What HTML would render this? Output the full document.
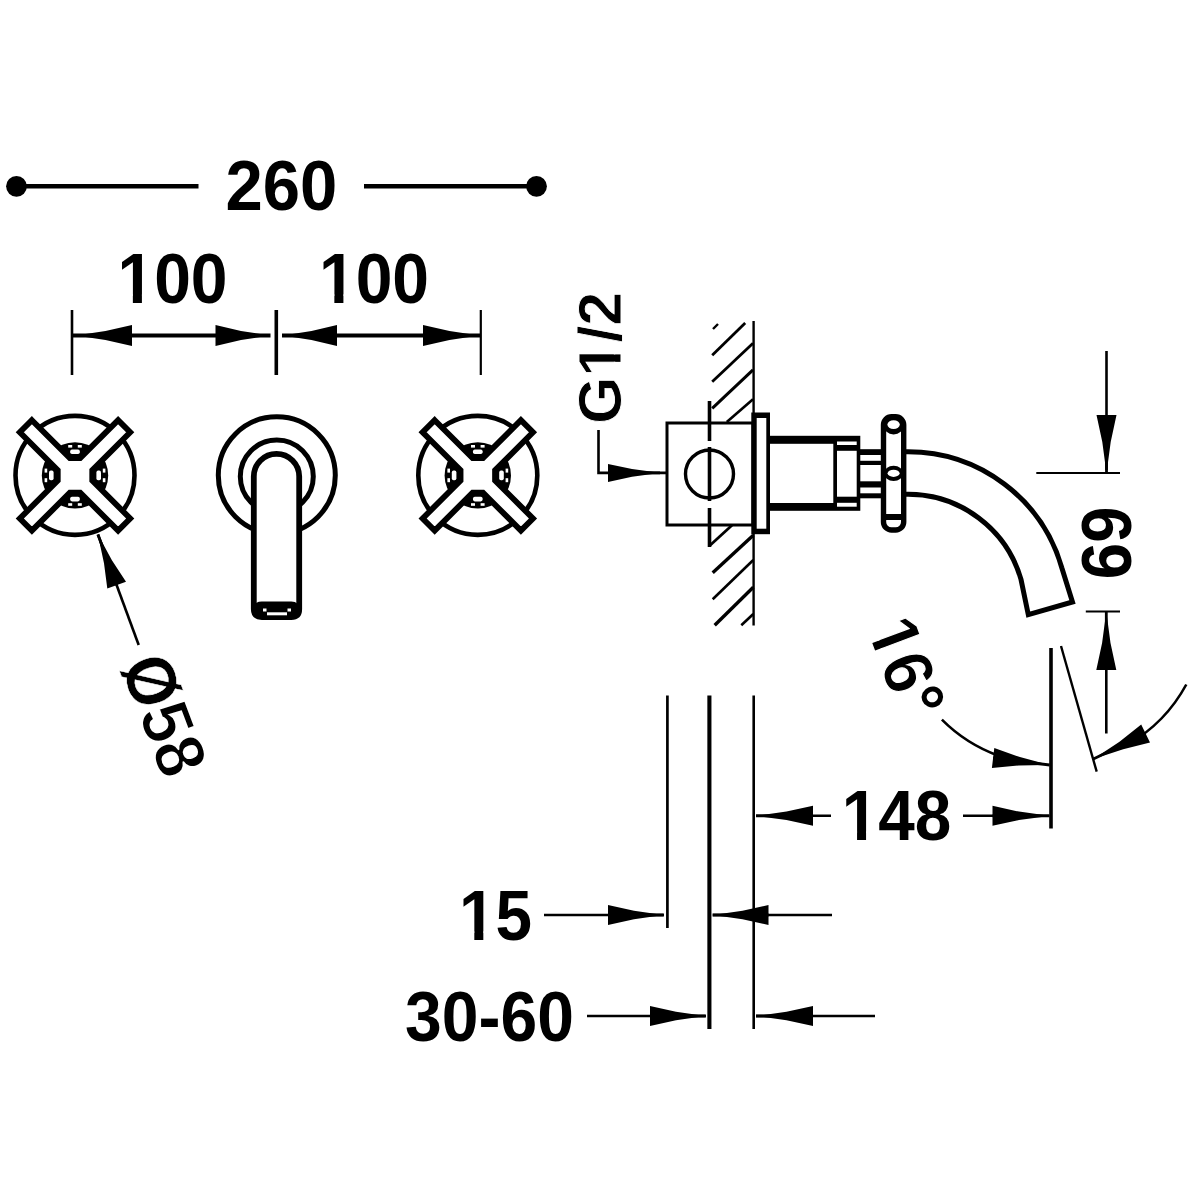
<!DOCTYPE html>
<html lang="en">
<head>
<meta charset="utf-8">
<title>Technical drawing</title>
<style>
html,body{margin:0;padding:0;background:#fff;}
body{width:1200px;height:1200px;overflow:hidden;}
svg{display:block;}
svg line,svg path,svg circle,svg rect,svg polygon,svg ellipse{stroke:#000;fill:none;stroke-linecap:butt;}
svg text{font-kerning:none;font-family:"Liberation Sans",sans-serif;font-weight:700;fill:#000;stroke:none;}
svg .f{fill:#000;stroke:none;}
svg .w{fill:#fff;}
svg .n{fill:none;}
svg .wf{fill:#fff;stroke:none;}
</style>
</head>
<body>
<svg width="1200" height="1200" viewBox="0 0 1200 1200">
<rect x="0" y="0" width="1200" height="1200" style="fill:#fff;stroke:none"/>
<circle class="f" cx="16.5" cy="186.3" r="10.4"/>
<circle class="f" cx="536.5" cy="186.3" r="10.4"/>
<line x1="16" y1="186.3" x2="198.5" y2="186.3" stroke-width="4.5"/>
<line x1="364" y1="186.3" x2="536" y2="186.3" stroke-width="4.5"/>
<g transform="translate(281.3 209.8) scale(1 1.05)">
<text x="-55.89" y="0" font-size="67">260</text>
</g>
<g transform="translate(172.5 303) scale(0.985 1.05)">
<text x="-55.89" y="0" font-size="67">100</text>
<rect class="wf" x="-52.62" y="-8.18" width="12.37" height="8.83"/>
<rect class="wf" x="-31.06" y="-8.18" width="11.48" height="8.83"/>
</g>
<g transform="translate(374 303) scale(0.985 1.05)">
<text x="-55.89" y="0" font-size="67">100</text>
<rect class="wf" x="-52.62" y="-8.18" width="12.37" height="8.83"/>
<rect class="wf" x="-31.06" y="-8.18" width="11.48" height="8.83"/>
</g>
<line x1="72" y1="310" x2="72" y2="375" stroke-width="2.6"/>
<line x1="276.3" y1="310" x2="276.3" y2="375" stroke-width="3.6"/>
<line x1="480.8" y1="310" x2="480.8" y2="375" stroke-width="2.2"/>
<line x1="73" y1="335.5" x2="270.5" y2="335.5" stroke-width="4"/>
<line x1="282" y1="335.5" x2="480" y2="335.5" stroke-width="4"/>
<polygon class="f" points="79.0,334.9 105.5,331.1 132.0,325.0 132.0,346.0 105.5,339.9 79.0,336.1"/>
<polygon class="f" points="266.5,336.1 241.0,339.9 215.5,346.0 215.5,325.0 241.0,331.1 266.5,334.9"/>
<polygon class="f" points="286.0,334.9 311.5,331.1 337.0,325.0 337.0,346.0 311.5,339.9 286.0,336.1"/>
<polygon class="f" points="476.0,336.1 449.5,339.9 423.0,346.0 423.0,325.0 449.5,331.1 476.0,334.9"/>
<g transform="translate(75 475.4)">
<circle r="59.5" stroke-width="4.6" class="w"/>
<circle r="33.2" class="f"/>
<rect class="wf" transform="rotate(0)" x="-26" y="-4.8" width="4.6" height="9.6" rx="1.8"/>
<rect class="wf" transform="rotate(0)" x="-30.4" y="-6.8" width="2.6" height="4"/>
<rect class="wf" transform="rotate(0)" x="-30.4" y="2.8" width="2.6" height="4"/>
<rect class="wf" transform="rotate(90)" x="-26" y="-4.8" width="4.6" height="9.6" rx="1.8"/>
<rect class="wf" transform="rotate(90)" x="-30.4" y="-6.8" width="2.6" height="4"/>
<rect class="wf" transform="rotate(90)" x="-30.4" y="2.8" width="2.6" height="4"/>
<rect class="wf" transform="rotate(180)" x="-26" y="-4.8" width="4.6" height="9.6" rx="1.8"/>
<rect class="wf" transform="rotate(180)" x="-30.4" y="-6.8" width="2.6" height="4"/>
<rect class="wf" transform="rotate(180)" x="-30.4" y="2.8" width="2.6" height="4"/>
<rect class="wf" transform="rotate(270)" x="-26" y="-4.8" width="4.6" height="9.6" rx="1.8"/>
<rect class="wf" transform="rotate(270)" x="-30.4" y="-6.8" width="2.6" height="4"/>
<rect class="wf" transform="rotate(270)" x="-30.4" y="2.8" width="2.6" height="4"/>
<polygon transform="rotate(45)" class="w" stroke-width="5.8" stroke-linejoin="miter" points="-69.5,-8.55 -15.85,-8.55 -8.55,-15.85 -8.55,-69.5 8.55,-69.5 8.55,-15.85 15.85,-8.55 69.5,-8.55 69.5,8.55 15.85,8.55 8.55,15.85 8.55,69.5 -8.55,69.5 -8.55,15.85 -15.85,8.55 -69.5,8.55"/>
</g>
<g transform="translate(477.8 475.4)">
<circle r="59.5" stroke-width="4.6" class="w"/>
<circle r="33.2" class="f"/>
<rect class="wf" transform="rotate(0)" x="-26" y="-4.8" width="4.6" height="9.6" rx="1.8"/>
<rect class="wf" transform="rotate(0)" x="-30.4" y="-6.8" width="2.6" height="4"/>
<rect class="wf" transform="rotate(0)" x="-30.4" y="2.8" width="2.6" height="4"/>
<rect class="wf" transform="rotate(90)" x="-26" y="-4.8" width="4.6" height="9.6" rx="1.8"/>
<rect class="wf" transform="rotate(90)" x="-30.4" y="-6.8" width="2.6" height="4"/>
<rect class="wf" transform="rotate(90)" x="-30.4" y="2.8" width="2.6" height="4"/>
<rect class="wf" transform="rotate(180)" x="-26" y="-4.8" width="4.6" height="9.6" rx="1.8"/>
<rect class="wf" transform="rotate(180)" x="-30.4" y="-6.8" width="2.6" height="4"/>
<rect class="wf" transform="rotate(180)" x="-30.4" y="2.8" width="2.6" height="4"/>
<rect class="wf" transform="rotate(270)" x="-26" y="-4.8" width="4.6" height="9.6" rx="1.8"/>
<rect class="wf" transform="rotate(270)" x="-30.4" y="-6.8" width="2.6" height="4"/>
<rect class="wf" transform="rotate(270)" x="-30.4" y="2.8" width="2.6" height="4"/>
<polygon transform="rotate(45)" class="w" stroke-width="5.8" stroke-linejoin="miter" points="-69.5,-8.55 -15.85,-8.55 -8.55,-15.85 -8.55,-69.5 8.55,-69.5 8.55,-15.85 15.85,-8.55 69.5,-8.55 69.5,8.55 15.85,8.55 8.55,15.85 8.55,69.5 -8.55,69.5 -8.55,15.85 -15.85,8.55 -69.5,8.55"/>
</g>
<circle cx="276.8" cy="475.3" r="58.5" stroke-width="5" class="w"/>
<circle cx="276.8" cy="476.5" r="36.5" stroke-width="5" class="w"/>
<path class="w" stroke-width="5.8" d="M253.8 609 V476.6 A22.7 22.7 0 0 1 299.2 476.6 V609 Q299.2 617 291.2 617 H261.8 Q253.8 617 253.8 609 Z"/>
<path class="f" d="M253.7 609 Q253.7 601.5 261.7 601.5 H291.3 Q299.3 601.5 299.3 609 Q299.3 617 291.3 617 H261.7 Q253.7 617 253.7 609 Z"/>
<rect x="267" y="612.3" width="20" height="3" class="wf"/>
<rect x="263" y="608.5" width="3.5" height="3" class="wf"/>
<rect x="287.5" y="608.5" width="3.5" height="3" class="wf"/>
<line x1="98" y1="534.5" x2="138.7" y2="645" stroke-width="2.6"/>
<polygon class="f" points="99.9,538.0 111.9,560.2 126.0,581.7 107.3,588.6 104.0,563.2 98.7,538.5"/>
<line x1="116.6" y1="585.1" x2="97.9" y2="534.5" stroke-width="2.8"/>
<g transform="translate(120 665.5) rotate(69.5) scale(0.98 1.05)">
<text x="0.00" y="0" font-size="67"><tspan style="stroke:#fff;stroke-width:0.5px">Ø</tspan><tspan style="stroke:#fff;stroke-width:1.5px">58</tspan></text>
</g>
<g transform="translate(621.3 424) rotate(-90) scale(1 1)">
<text x="0.00" y="0" font-size="61"><tspan style="stroke:#fff;stroke-width:0.9px">G</tspan><tspan style="stroke:#fff;stroke-width:0.9px">1</tspan><tspan style="stroke:#fff;stroke-width:0.9px">/</tspan><tspan style="stroke:#fff;stroke-width:0.9px">2</tspan></text>
<rect class="wf" x="50.43" y="-7.45" width="11.71" height="8.04"/>
<rect class="wf" x="69.60" y="-7.45" width="10.90" height="8.04"/>
</g>
<path class="n" stroke-width="2.6" d="M598.5 430 V472.9 H667"/>
<polygon class="f" points="656.0,473.5 632.0,476.7 608.0,481.9 608.0,463.9 632.0,469.1 656.0,472.3"/>
<line x1="608.0" y1="472.9" x2="660.0" y2="472.9" stroke-width="2.8"/>
<line x1="713" y1="329" x2="718" y2="324" stroke-width="2.4"/>
<line x1="712.2" y1="355.2" x2="745.2" y2="323" stroke-width="2.8"/>
<line x1="712.2" y1="381.8" x2="753" y2="343.3" stroke-width="2.8"/>
<line x1="712.2" y1="408.3" x2="753" y2="369.8" stroke-width="3"/>
<line x1="726.8" y1="422" x2="753" y2="399.2" stroke-width="2.6"/>
<line x1="712.7" y1="572.7" x2="753.3" y2="535.3" stroke-width="3.4"/>
<line x1="712.7" y1="599.3" x2="753.3" y2="560" stroke-width="2.6"/>
<line x1="714.7" y1="625.3" x2="753.3" y2="587.3" stroke-width="3.4"/>
<line x1="741.3" y1="625.3" x2="753.3" y2="614" stroke-width="2.6"/>
<line x1="753.6" y1="321" x2="753.6" y2="625.5" stroke-width="2.4"/>
<rect class="w" x="667" y="423" width="86" height="102" stroke-width="3"/>
<line x1="709.5" y1="401" x2="709.5" y2="441" stroke-width="3.6"/>
<line x1="709.5" y1="447" x2="709.5" y2="501" stroke-width="3.6"/>
<line x1="709.5" y1="508" x2="709.5" y2="547" stroke-width="3.6"/>
<line x1="709.3" y1="546" x2="732" y2="525.3" stroke-width="2.8"/>
<circle class="n" cx="709.5" cy="474" r="24" stroke-width="3.4"/>
<rect class="f" x="751.3" y="412.5" width="18.7" height="121.7"/>
<rect x="756.7" y="418" width="9.6" height="110.7" class="wf"/>
<rect class="f" x="769" y="435.8" width="91.3" height="75"/>
<rect x="770" y="443.8" width="63.3" height="59.2" class="wf"/>
<rect x="837" y="441.5" width="19.7" height="3.5" class="wf"/>
<rect x="837" y="450.8" width="19.7" height="45.9" class="wf"/>
<rect x="837" y="502.8" width="19.7" height="3.9" class="wf"/>
<rect class="f" x="860" y="449.2" width="22" height="49.1"/>
<rect x="860.3" y="455" width="21" height="5.8" class="wf"/>
<rect x="860.3" y="465" width="21" height="16.3" class="wf"/>
<rect x="860.3" y="487.5" width="21" height="5.8" class="wf"/>
<path class="w" stroke-width="5" stroke-linejoin="miter" d="M903 451.8 H908 A160 160 0 0 1 1061.8 567.7 L1072.5 602 L1028.3 614.7 L1021 579.4 A117.5 117.5 0 0 0 908 494.3 H903"/>
<rect class="w" x="883.5" y="416.8" width="20.2" height="113.2" rx="8" stroke-width="5.4"/>
<ellipse class="f" cx="893.6" cy="425.5" rx="10" ry="9"/>
<ellipse class="wf" cx="893.6" cy="424.6" rx="6.2" ry="4.3"/>
<rect class="f" x="884" y="514" width="19" height="6"/>
<ellipse class="f" cx="893.6" cy="473.3" rx="9.6" ry="7.6"/>
<ellipse class="wf" cx="893.6" cy="473.3" rx="6" ry="3.6"/>
<line x1="1106.5" y1="351" x2="1106.5" y2="470" stroke-width="2.6"/>
<polygon class="f" points="1105.9,469.0 1102.3,442.0 1096.5,415.0 1116.5,415.0 1110.7,442.0 1107.1,469.0"/>
<line x1="1106.5" y1="415.0" x2="1106.5" y2="473.0" stroke-width="2.8"/>
<line x1="1036.3" y1="473" x2="1120" y2="473" stroke-width="2.2"/>
<line x1="1085.8" y1="611.5" x2="1120" y2="611.5" stroke-width="2.2"/>
<polygon class="f" points="1106.9,616.0 1110.5,643.0 1116.3,670.0 1096.3,670.0 1102.1,643.0 1105.7,616.0"/>
<line x1="1106.3" y1="670.0" x2="1106.3" y2="612.0" stroke-width="2.8"/>
<line x1="1106.3" y1="660" x2="1106.3" y2="733.5" stroke-width="2.6"/>
<g transform="translate(1082 506.5) rotate(90) scale(1 1.07)">
<text x="0.00" y="0" font-size="65.5">69</text>
</g>
<line x1="1051" y1="648" x2="1051" y2="828.5" stroke-width="3.6"/>
<line x1="1061" y1="646" x2="1096.7" y2="771.7" stroke-width="2.4"/>
<path class="n" stroke-width="2.6" d="M941.9 719.7 A154 154 0 0 0 998.3 755.7"/>
<polygon class="f" points="1045.6,765.1 1018.9,765.4 991.9,768.0 994.3,748.1 1019.9,757.1 1045.8,763.9"/>
<line x1="993.1" y1="758.0" x2="1049.7" y2="765.0" stroke-width="2.8"/>
<path class="n" stroke-width="2.6" d="M1186.3 684.5 A154 154 0 0 1 1128.0 744.4"/>
<polygon class="f" points="1096.8,756.7 1119.5,741.7 1141.2,724.6 1150.0,742.6 1123.2,749.2 1097.3,757.8"/>
<line x1="1145.6" y1="733.6" x2="1093.4" y2="759.0" stroke-width="2.8"/>
<g transform="translate(866 628) rotate(69.5) scale(1 1.05)">
<text x="0.00" y="0" font-size="67"><tspan style="stroke:#fff;stroke-width:1.1px">16</tspan>°</text>
<rect class="wf" x="3.27" y="-8.18" width="12.92" height="8.83"/>
<rect class="wf" x="24.28" y="-8.18" width="12.03" height="8.83"/>
</g>
<line x1="756" y1="815.8" x2="831" y2="815.8" stroke-width="2.6"/>
<polygon class="f" points="760.0,815.2 786.5,811.6 813.0,805.8 813.0,825.8 786.5,820.0 760.0,816.4"/>
<line x1="813.0" y1="815.8" x2="756.0" y2="815.8" stroke-width="2.8"/>
<line x1="963" y1="815.8" x2="1049" y2="815.8" stroke-width="2.6"/>
<polygon class="f" points="1045.5,816.4 1019.0,820.0 992.5,825.8 992.5,805.8 1019.0,811.6 1045.5,815.2"/>
<line x1="992.5" y1="815.8" x2="1049.5" y2="815.8" stroke-width="2.8"/>
<g transform="translate(896.5 840) scale(0.98 1.05)">
<text x="-55.89" y="0" font-size="67">148</text>
<rect class="wf" x="-52.62" y="-8.18" width="12.37" height="8.83"/>
<rect class="wf" x="-31.06" y="-8.18" width="11.48" height="8.83"/>
</g>
<line x1="667.4" y1="695.5" x2="667.4" y2="928" stroke-width="2.7"/>
<line x1="709.4" y1="695.5" x2="709.4" y2="1029" stroke-width="4.1"/>
<line x1="753.7" y1="695.5" x2="753.7" y2="1029" stroke-width="2.6"/>
<line x1="544" y1="915" x2="663" y2="915" stroke-width="2.6"/>
<polygon class="f" points="660.0,915.6 634.0,919.2 608.0,925.0 608.0,905.0 634.0,910.8 660.0,914.4"/>
<line x1="608.0" y1="915.0" x2="664.0" y2="915.0" stroke-width="2.8"/>
<line x1="713" y1="915" x2="832" y2="915" stroke-width="2.6"/>
<polygon class="f" points="716.5,914.4 742.5,910.8 768.5,905.0 768.5,925.0 742.5,919.2 716.5,915.6"/>
<line x1="768.5" y1="915.0" x2="712.5" y2="915.0" stroke-width="2.8"/>
<g transform="translate(495.5 940) scale(0.98 1.05)">
<text x="-37.26" y="0" font-size="67">15</text>
<rect class="wf" x="-33.99" y="-8.18" width="12.37" height="8.83"/>
<rect class="wf" x="-12.43" y="-8.18" width="11.48" height="8.83"/>
</g>
<line x1="587" y1="1016" x2="705" y2="1016" stroke-width="2.6"/>
<polygon class="f" points="702.0,1016.6 676.0,1020.2 650.0,1026.0 650.0,1006.0 676.0,1011.8 702.0,1015.4"/>
<line x1="650.0" y1="1016.0" x2="706.0" y2="1016.0" stroke-width="2.8"/>
<line x1="756" y1="1016" x2="875" y2="1016" stroke-width="2.6"/>
<polygon class="f" points="760.0,1015.4 786.5,1011.8 813.0,1006.0 813.0,1026.0 786.5,1020.2 760.0,1016.6"/>
<line x1="813.0" y1="1016.0" x2="756.0" y2="1016.0" stroke-width="2.8"/>
<g transform="translate(489.5 1040.5) scale(0.985 1.05)">
<text x="-85.68" y="0" font-size="67">30-60</text>
</g>
</svg>
</body>
</html>
